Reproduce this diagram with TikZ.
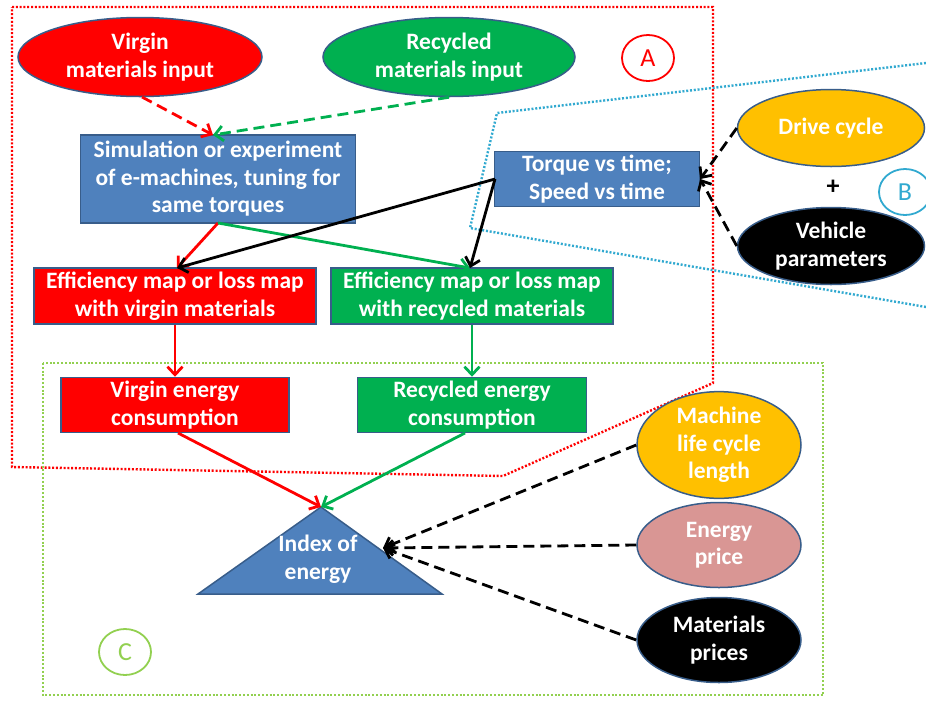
\documentclass[tikz,border=0pt]{standalone}
\usepackage{fontspec}
\setmainfont{Carlito}
\usetikzlibrary{shapes.geometric,arrows.meta}
\definecolor{cred}{HTML}{FF0000}
\definecolor{cgreen}{HTML}{00B050}
\definecolor{cblue}{HTML}{4F81BD}
\definecolor{cbord}{HTML}{385D8A}
\definecolor{cyel}{HTML}{FFC000}
\definecolor{cpink}{HTML}{D99694}
\definecolor{ccyan}{HTML}{31A9D0}
\definecolor{clgreen}{HTML}{92D050}
\begin{document}
\begin{tikzpicture}[x=1pt,y=-1pt,
  box/.style={draw=cbord, line width=1.5pt, text=white, font=\bfseries\fontsize{23.5}{27.5}\selectfont, align=center, inner sep=0pt},
  ell/.style={box, ellipse},
  arr/.style={line width=2.8pt, -{Straight Barb[length=8pt,width=15pt]}},
  dsh/.style={dash pattern=on 11pt off 6pt},
  region/.style={line width=2.4pt, dash pattern=on 2pt off 1.8pt},
  tag/.style={draw, line width=1.8pt, minimum width=52pt, minimum height=46pt, inner sep=0pt, font=\fontsize{26}{28}\selectfont, ellipse}
]
\useasboundingbox (0,0) rectangle (926,702);

% regions
\draw[region, cred] (12,7) -- (713,7) -- (713,383) -- (503,476) -- (12,467) -- cycle;
\draw[region, ccyan] (926,63) -- (497,113) -- (470,228) -- (926,307);
\draw[region, clgreen] (43,363) rectangle (823,695);

% tags
\node[tag, draw=cred, text=cred] (tA) at (648,58) {A};
\node[tag, draw=ccyan, text=ccyan] (tB) at (905,192) {B};
\node[tag, draw=clgreen, text=clgreen] (tC) at (125,652) {C};

% nodes
\node[ell, fill=cred, minimum width=244pt, minimum height=79pt] (vin) at (140,57) {Virgin\\materials input};
\node[ell, fill=cgreen, minimum width=252pt, minimum height=79pt] (rin) at (449,57) {Recycled\\materials input};
\node[box, fill=cblue, minimum width=275pt, minimum height=88pt] (sim) at (218,179) {Simulation or experiment\\of e-machines, tuning for\\same torques};
\node[box, fill=cblue, minimum width=205pt, minimum height=55pt] (tq) at (597,179) {Torque vs time;\\Speed vs time};
\node[ell, fill=cyel, minimum width=187pt, minimum height=77pt] (dc) at (831,128) {Drive cycle};
\node[font=\bfseries\fontsize{26}{28}\selectfont] (plus) at (833,187) {+};
\node[ell, fill=black, minimum width=187pt, minimum height=77pt] (vp) at (831,246) {Vehicle\\parameters};
\node[box, fill=cred, minimum width=282pt, minimum height=56pt] (ev) at (175,296) {Efficiency map or loss map\\with virgin materials};
\node[box, fill=cgreen, minimum width=282pt, minimum height=56pt] (er) at (472,296) {Efficiency map or loss map\\with recycled materials};
\node[box, fill=cred, minimum width=228pt, minimum height=55pt] (cv) at (175,405) {Virgin energy\\consumption};
\node[box, fill=cgreen, minimum width=229pt, minimum height=55pt] (cr) at (472,405) {Recycled energy\\consumption};
\node[ell, fill=cyel, minimum width=164pt, minimum height=85pt] (ml) at (719,445) {Machine\\life cycle\\length};
\node[ell, fill=cpink, minimum width=164pt, minimum height=85pt] (ep) at (719,545) {Energy\\price};
\node[ell, fill=black, minimum width=164pt, minimum height=85pt] (mp) at (719,640) {Materials\\prices};

% triangle
\coordinate (apex) at (321,507);
\coordinate (tri-bl) at (198,594);
\coordinate (tri-br) at (442,594);
\coordinate (tri-r) at (383,548);
\draw[fill=cblue, draw=cbord, line width=1.5pt] (apex) -- (tri-br) -- (tri-bl) -- cycle;
\node[box, draw=none] (idx) at (318,559) {Index of\\energy};

% connectors
\coordinate (simtop) at (213,135);
\coordinate (vinb) at (142,97);
\draw[arr, cred, dsh] (vinb) -- (simtop);
\draw[arr, cgreen, dsh] (rin.south) -- (simtop);
\coordinate (evtop) at (177,268);
\coordinate (ertop) at (470,268);
\coordinate (simb) at (218,223);
\coordinate (tql) at (495,179);
\draw[arr, cred] (simb) -- (evtop);
\draw[arr, cgreen] (simb) -- (ertop);
\draw[arr, black] (tql) -- (evtop);
\draw[arr, black] (tql) -- (ertop);
\draw[arr, black, dsh] (dc.west) -- (tq.east);
\draw[arr, black, dsh] (vp.west) -- (tq.east);
\draw[arr, cred] (ev.south) -- (cv.north);
\draw[arr, cgreen] (er.south) -- (cr.north);
\coordinate (cvb) at (178,433);
\coordinate (crb) at (465,433);
\draw[arr, cred] (cvb) -- (apex);
\draw[arr, cgreen] (crb) -- (apex);
\draw[arr, black, dsh] (ml.west) -- (tri-r);
\draw[arr, black, dsh] (ep.west) -- (tri-r);
\draw[arr, black, dsh] (mp.west) -- (tri-r);
\end{tikzpicture}
\end{document}
